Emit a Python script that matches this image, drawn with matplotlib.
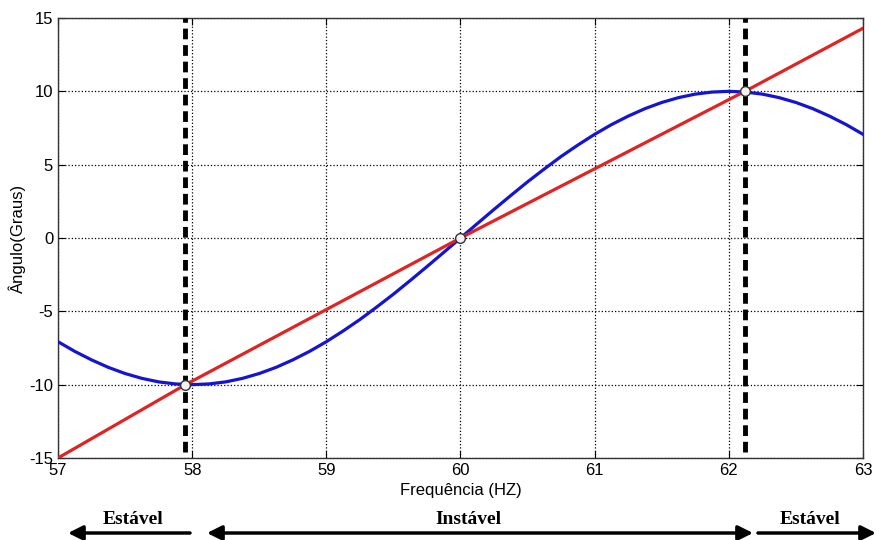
import numpy as np
import matplotlib
matplotlib.use('Agg')
import matplotlib.pyplot as plt

# blue curve
freq_blue = [57.0, 57.125, 57.25, 57.375, 57.5, 57.625, 57.75, 57.875,
             58.0, 58.125, 58.25, 58.375, 58.5, 58.625, 58.75, 58.875,
             59.0, 59.125, 59.25, 59.375, 59.5, 59.625, 59.75, 59.875,
             60.0, 60.125, 60.25, 60.375, 60.5, 60.625, 60.75, 60.875,
             61.0, 61.125, 61.25, 61.375, 61.5, 61.625, 61.75, 61.875,
             62.0, 62.125, 62.25, 62.375, 62.5, 62.625, 62.75, 62.875, 63.0]
ang_blue = [-7.07, -7.73, -8.31, -8.82, -9.24, -9.57, -9.81, -9.95,
            -10.0, -9.95, -9.81, -9.57, -9.24, -8.82, -8.31, -7.73,
            -7.07, -6.34, -5.56, -4.71, -3.83, -2.90, -1.95, -0.98,
            0.0, 0.98, 1.95, 2.90, 3.83, 4.71, 5.56, 6.34,
            7.07, 7.73, 8.31, 8.82, 9.24, 9.57, 9.81, 9.95,
            10.0, 9.95, 9.81, 9.57, 9.24, 8.82, 8.31, 7.73, 7.07]

# red line
freq_red = [57.0, 57.95, 60.0, 62.12, 63.0]
ang_red = [-15.0, -10.0, 0.0, 10.0, 14.3]

# equilibrium points
freq_pts = [57.95, 60.0, 62.12]
ang_pts = [-10.0, 0.0, 10.0]

# stability boundaries
bounds = [57.95, 62.12]

xticks = [57, 58, 59, 60, 61, 62, 63]
yticks = [-15, -10, -5, 0, 5, 10, 15]

plt.rcParams['font.family'] = ['Liberation Sans', 'DejaVu Sans']
plt.rcParams['axes.unicode_minus'] = False

fig = plt.figure(figsize=(8.76, 5.4), dpi=100)
ax = fig.add_axes([58/876, 1-458/540, (863-58)/876, (458-18)/540])

ax.plot(freq_blue, ang_blue, color='#1414d2', lw=2.3, zorder=3)
ax.plot(freq_red, ang_red, color='#e02424', lw=2.3, zorder=3)
for b in bounds:
    ax.plot([b, b], [-14.6, 15], color='black', lw=3.5, ls=(0, (2.2, 1.2)), zorder=4)
ax.plot(freq_pts, ang_pts, 'o', ms=7, mfc='#f2f2f2', mec='#333333', mew=1, zorder=5)

ax.set_xlim(57, 63)
ax.set_ylim(-15, 15)
ax.set_xticks(xticks)
ax.set_yticks(yticks)
ax.grid(True, color='black', ls=':', lw=0.9)
ax.tick_params(direction='in', top=True, right=True, labelsize=12, length=5, width=0.8)
for s in ax.spines.values():
    s.set_linewidth(1.0)
    s.set_color('#333333')
ax.set_xlabel('Frequência (HZ)', fontsize=12, labelpad=4)
ax.set_ylabel('Ângulo(Graus)', fontsize=12, labelpad=2)

# stability arrows under the axes
ap = dict(arrowstyle='-|>', color='black', lw=2.5, mutation_scale=22, shrinkA=0, shrinkB=0)
ap2 = dict(arrowstyle='<|-|>', color='black', lw=2.5, mutation_scale=22, shrinkA=0, shrinkB=0)
ya = 540 - 533
ax.annotate('', xy=(68, ya), xytext=(190, ya), xycoords='figure pixels', textcoords='figure pixels', arrowprops=ap)
ax.annotate('', xy=(207, ya), xytext=(753, ya), xycoords='figure pixels', textcoords='figure pixels', arrowprops=ap2)
ax.annotate('', xy=(876, ya), xytext=(758, ya), xycoords='figure pixels', textcoords='figure pixels', arrowprops=ap)

tf = dict(fontsize=14, fontweight='bold', family='Liberation Serif', ha='center', va='center')
fig.text(133/876, 1-520/540, 'Estável', **tf)
fig.text(468/876, 1-520/540, 'Instável', **tf)
fig.text(810/876, 1-520/540, 'Estável', **tf)

fig.savefig('out.png', dpi=100)
